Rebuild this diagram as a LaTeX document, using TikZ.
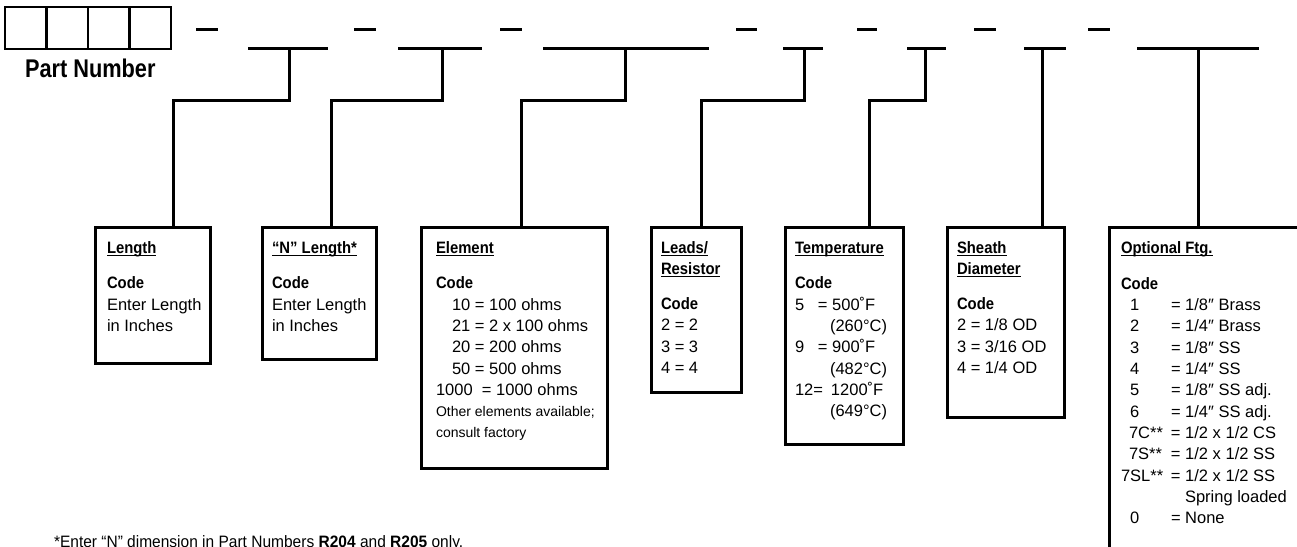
\documentclass[tikz,border=0pt]{standalone}
\usepackage{fontspec}
\setmainfont{Liberation Sans}[BoldFeatures={FakeStretch=0.9}]
\newfontfamily\pnfont{Liberation Sans}[FakeStretch=0.85]
\newfontfamily\ftfont{Liberation Sans}[FakeStretch=0.94]
\newsavebox\ttlbox
\newcommand\ttl[1]{\leavevmode\sbox\ttlbox{\bfseries #1}\rlap{\rule[-3pt]{\wd\ttlbox}{1.3pt}}\usebox\ttlbox}
\newcommand\cbx[2]{\makebox[#1][l]{#2}}
\newcommand\bodyfont{\fontsize{16.5}{21.3}\selectfont}
\begin{document}
\begin{tikzpicture}[x=1pt,y=-1pt,
  ln/.style={line width=3pt},
  codebox/.style={draw, line width=3pt, anchor=north west, inner sep=0pt, outer sep=0pt},
  partbox/.style={draw, line width=2.7pt, anchor=north west, inner sep=0pt, outer sep=0pt, minimum width=41.5pt, minimum height=42pt},
  txt/.style={anchor=base west, inner sep=0pt, outer sep=0pt}]
\path[use as bounding box] (0,0) rectangle (1297,546);
\clip (0,0) rectangle (1297,546);

% part number boxes
\node[partbox] (p1) at (5,7) {};
\node[partbox] (p2) at (46.5,7) {};
\node[partbox] (p3) at (88,7) {};
\node[partbox] (p4) at (129.5,7) {};
\node[txt] (pn) at (25,77) {\pnfont\bfseries\fontsize{25.6}{28}\selectfont Part Number};

% dashes
\foreach \a/\b [count=\i] in {196/218,354/376,500/522,736/757,857/877,974/996,1088/1110}{
  \coordinate (da\i) at (\a,29); \coordinate (db\i) at (\b,29);
  \draw[ln] (da\i) -- (db\i);
}
% underlines
\foreach \a/\b [count=\i] in {248/328,398/482,543/709,783/823,907/946,1024/1066,1137/1259}{
  \coordinate (ua\i) at (\a,48); \coordinate (ub\i) at (\b,48);
  \draw[ln] (ua\i) -- (ub\i);
}
% stems
\coordinate (s1) at (289,48);
\coordinate (s2) at (442,48);
\coordinate (s3) at (625,48);
\coordinate (s4) at (804,48);
\coordinate (s5) at (925,48);
\coordinate (s6) at (1042,48);
\coordinate (s7) at (1198,48);
\coordinate (k1) at (173,100);
\coordinate (k2) at (331,100);
\coordinate (k3) at (521,100);
\coordinate (k4) at (701,100);
\coordinate (k5) at (869,100);

% boxes
\node[codebox, minimum width=115pt, minimum height=136pt] (len) at (95,227) {};
\node[codebox, minimum width=114pt, minimum height=132pt] (nlen) at (262,227) {};
\node[codebox, minimum width=186pt, minimum height=241pt] (elem) at (421,227) {};
\node[codebox, minimum width=90pt, minimum height=165pt] (leads) at (651,227) {};
\node[codebox, minimum width=118pt, minimum height=217pt] (temp) at (785,227) {};
\node[codebox, minimum width=117pt, minimum height=190pt] (sheath) at (947,227) {};
\node[codebox, minimum width=210pt, minimum height=400pt] (opt) at (1109,227) {};

% connectors
\draw[ln] (s1) |- (k1) -- (k1 |- len.north);
\draw[ln] (s2) |- (k2) -- (k2 |- nlen.north);
\draw[ln] (s3) |- (k3) -- (k3 |- elem.north);
\draw[ln] (s4) |- (k4) -- (k4 |- leads.north);
\draw[ln] (s5) |- (k5) -- (k5 |- temp.north);
\draw[ln] (s6) -- (s6 |- sheath.north);
\draw[ln] (s7) -- (s7 |- opt.north);

% texts
\node[txt] (tlen) at (107,253) {\parbox[t]{100pt}{\bodyfont\raggedright
\ttl{Length}\\[14.5pt]
\textbf{Code}\\
Enter Length\\
in Inches}};

\node[txt] (tnlen) at (272,253) {\parbox[t]{100pt}{\bodyfont\raggedright
\ttl{“N” Length*}\\[14.5pt]
\textbf{Code}\\
Enter Length\\
in Inches}};

\node[txt] (telem) at (436,253) {\parbox[t]{170pt}{\bodyfont\raggedright
\ttl{Element}\\[14.5pt]
\textbf{Code}\\
\hspace*{16pt}10 = 100 ohms\\
\hspace*{16pt}21 = 2 x 100 ohms\\
\hspace*{16pt}20 = 200 ohms\\
\hspace*{16pt}50 = 500 ohms\\
\cbx{46pt}{1000}= 1000 ohms\\
{\fontsize{14}{21.3}\selectfont Other elements available;\\
consult factory}}};

\node[txt] (tleads) at (661,253) {\parbox[t]{80pt}{\bodyfont\raggedright
\ttl{Leads/}\\
\ttl{Resistor}\\[14pt]
\textbf{Code}\\
2 = 2\\
3 = 3\\
4 = 4}};

\node[txt] (ttemp) at (795,253) {\parbox[t]{105pt}{\bodyfont\raggedright
\ttl{Temperature}\\[14.5pt]
\textbf{Code}\\
\cbx{23pt}{5}= 500˚F\\
\hspace*{35pt}(260°C)\\
\cbx{23pt}{9}= 900˚F\\
\hspace*{35pt}(482°C)\\
\cbx{36pt}{12=}1200˚F\\
\hspace*{35pt}(649°C)}};

\node[txt] (tsheath) at (957,253) {\parbox[t]{105pt}{\bodyfont\raggedright
\ttl{Sheath}\\
\ttl{Diameter}\\[14pt]
\textbf{Code}\\
2 = 1/8 OD\\
3 = 3/16 OD\\
4 = 1/4 OD}};

\node[txt] (topt) at (1121,253) {\parbox[t]{180pt}{\bodyfont\raggedright
\ttl{Optional Ftg.}\\[15pt]
\textbf{Code}\\
\cbx{50pt}{\hspace*{9pt}1}= 1/8″ Brass\\
\cbx{50pt}{\hspace*{9pt}2}= 1/4″ Brass\\
\cbx{50pt}{\hspace*{9pt}3}= 1/8″ SS\\
\cbx{50pt}{\hspace*{9pt}4}= 1/4″ SS\\
\cbx{50pt}{\hspace*{9pt}5}= 1/8″ SS adj.\\
\cbx{50pt}{\hspace*{9pt}6}= 1/4″ SS adj.\\
\cbx{50pt}{\hspace*{8pt}7C**}= 1/2 x 1/2 CS\\
\cbx{50pt}{\hspace*{8pt}7S**}= 1/2 x 1/2 SS\\
\cbx{50pt}{7SL**}= 1/2 x 1/2 SS\\
\hspace*{64pt}Spring loaded\\
\cbx{50pt}{\hspace*{9pt}0}= None}};

\node[txt] (foot) at (54,547) {\ftfont\fontsize{16.5}{20}\selectfont *Enter “N” dimension in Part Numbers \textbf{R204} and \textbf{R205} only.};
\end{tikzpicture}
\end{document}
